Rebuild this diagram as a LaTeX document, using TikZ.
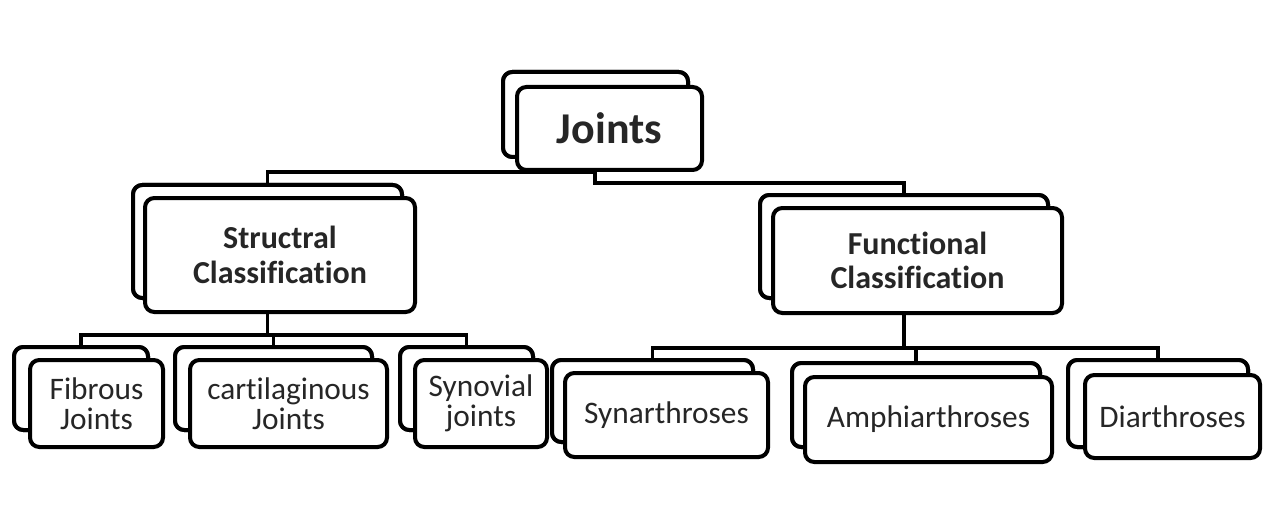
\documentclass[tikz,border=0pt]{standalone}
\usepackage{fontspec}
\setmainfont{Carlito}[Ligatures={NoCommon}]
\usetikzlibrary{fit}
\begin{document}
\begin{tikzpicture}[x=0.75pt,y=-0.75pt,
  card/.style={draw=black, line width=3pt, rounded corners=7pt, fill=white, inner sep=0pt},
  link/.style={draw=black, line width=2.6pt},
  lbl/.style={align=center, text=black!85, inner sep=0pt, anchor=center},
  toptxt/.style={lbl, font=\bfseries\fontsize{33}{38}\selectfont},
  midtxt/.style={lbl, font=\bfseries\fontsize{24}{26}\selectfont},
  lowtxt/.style={lbl, font=\fontsize{23.5}{22.5}\selectfont}]
\useasboundingbox (0,0) rectangle (1263,506);
% named junction points
\coordinate (j1) at (595,172);
\coordinate (j2) at (595,183);
\coordinate (sbar) at (267.5,335);
\coordinate (fbar) at (904,348);
% back cards
\node[card, fit={(503,72)(688,157)}] (joB) {};
\node[card, fit={(133,185)(402,298)}] (strB) {};
\node[card, fit={(760,195)(1048,298)}] (funB) {};
\node[card, fit={(14,347)(148,430)}] (fibB) {};
\node[card, fit={(175,347)(372,430)}] (carB) {};
\node[card, fit={(400,347)(533,430)}] (synB) {};
\node[card, fit={(552,360)(753,442)}] (sarB) {};
\node[card, fit={(792,363)(1040,447)}] (ampB) {};
\node[card, fit={(1068,360)(1248,447)}] (diaB) {};
% connectors
\draw[link] (strB.north) |- (j1) -- (j2) -| (funB.north);
\draw[link] (strB.south) -- (sbar);
\draw[link] (fibB.north) |- (sbar) -| (synB.north);
\draw[link] (carB.north) -- (carB.north |- sbar);
\draw[link] (funB.south) -- (fbar);
\draw[link] (sarB.north) |- (fbar) -| (diaB.north);
\draw[link] (ampB.north) -- (ampB.north |- fbar);
% redraw back cards over connector ends
\node[card, fit={(503,72)(688,157)}] {};
\node[card, fit={(133,185)(402,298)}] {};
\node[card, fit={(760,195)(1048,298)}] {};
\node[card, fit={(14,347)(148,430)}] {};
\node[card, fit={(175,347)(372,430)}] {};
\node[card, fit={(400,347)(533,430)}] {};
\node[card, fit={(552,360)(753,442)}] {};
\node[card, fit={(792,363)(1040,447)}] {};
\node[card, fit={(1068,360)(1248,447)}] {};
% front cards
\node[card, fit={(517,87)(702,170)}] (joF) {};
\node[card, fit={(145,198)(415,312)}] (strF) {};
\node[card, fit={(773,208)(1062,313)}] (funF) {};
\node[card, fit={(30,360)(163,447)}] (fibF) {};
\node[card, fit={(190,360)(387,447)}] (carF) {};
\node[card, fit={(415,360)(547,447)}] (synF) {};
\node[card, fit={(565,373)(768,457)}] (sarF) {};
\node[card, fit={(805,377)(1052,462)}] (ampF) {};
\node[card, fit={(1085,375)(1260,458)}] (diaF) {};
% labels
\node[toptxt] (joT) at (joF.center) {Joints};
\node[midtxt] (strT) at (strF.center) {Structral\\Classification};
\node[midtxt] (funT) at (funF.center) {Functional\\Classification};
\node[lowtxt] (fibT) at (fibF.center) {Fibrous\\Joints};
\node[lowtxt] (carT) at (carF.center) {cartilaginous\\Joints};
\node[lowtxt] (synT) at (synF.center) {Synovial\\joints};
\node[lowtxt] (sarT) at (sarF.center) {Synarthroses};
\node[lowtxt] (ampT) at (ampF.center) {Amphiarthroses};
\node[lowtxt] (diaT) at (diaF.center) {Diarthroses};
\end{tikzpicture}
\end{document}
